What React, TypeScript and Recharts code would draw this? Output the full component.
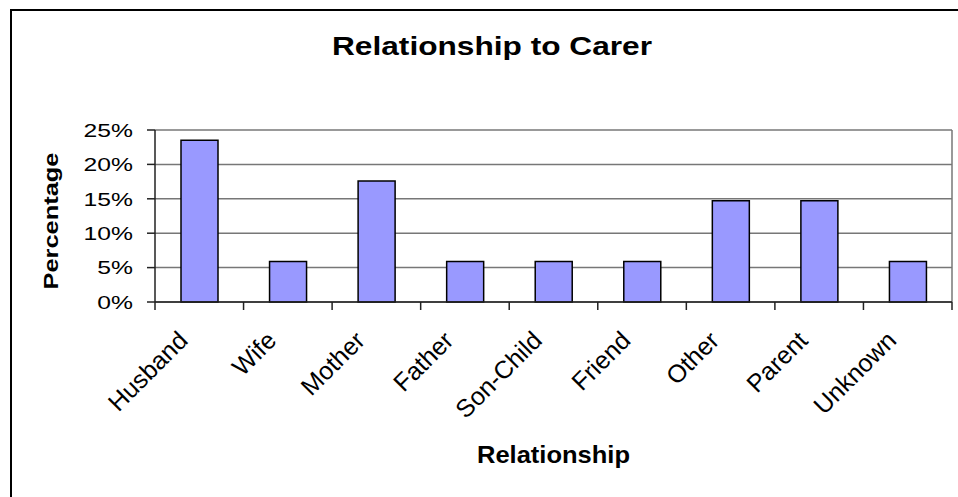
import { Bar, BarChart, CartesianGrid, XAxis, YAxis } from "recharts";

const relationships = [
  "Husband",
  "Wife",
  "Mother",
  "Father",
  "Son-Child",
  "Friend",
  "Other",
  "Parent",
  "Unknown",
];
const percentages = [23.5, 5.9, 17.6, 5.9, 5.9, 5.9, 14.7, 14.7, 5.9];
const yTicks = [0, 5, 10, 15, 20, 25];

const FONT = "Arial, 'Liberation Sans', sans-serif";

const rows = relationships.map((name, i) => ({ name, value: percentages[i] }));

function YTick({ x, y, payload }: any) {
  // excel-ish stretched digits
  return (
    <g transform={`translate(${x},${y}) scale(1.3,1)`}>
      <text x={0} y={0} dy="0.36em" textAnchor="end" fontFamily={FONT} fontSize={19} fill="#000">
        {`${payload.value}%`}
      </text>
    </g>
  );
}

function XTick({ x, y, payload, index, width }: any) {
  const half = payload.offset ?? width / relationships.length / 2;
  const last = index === relationships.length - 1;
  return (
    <g>
      <line x1={x - half} x2={x - half} y1={y} y2={y + 8} stroke="#222" strokeWidth={1.5} />
      {last && <line x1={x + half} x2={x + half} y1={y} y2={y + 8} stroke="#222" strokeWidth={1.5} />}
      <text
        transform={`translate(${x - 10},${y + 40}) rotate(-45)`}
        textAnchor="end"
        fontFamily={FONT}
        fontSize={25}
        fill="#000"
      >
        {payload.value}
      </text>
    </g>
  );
}

function XTitle({ viewBox }: any) {
  const { x, y, width } = viewBox;
  return (
    <text
      x={x + width / 2}
      y={y + 161}
      textAnchor="middle"
      fontFamily={FONT}
      fontWeight="bold"
      fontSize={24}
      textLength={153}
      lengthAdjust="spacingAndGlyphs"
      fill="#000"
    >
      Relationship
    </text>
  );
}

function YTitle({ viewBox }: any) {
  const { y, height } = viewBox;
  const cy = y + height / 2 + 5;
  return (
    <text
      transform={`translate(58,${cy}) rotate(-90)`}
      textAnchor="middle"
      fontFamily={FONT}
      fontWeight="bold"
      fontSize={21}
      textLength={137}
      lengthAdjust="spacingAndGlyphs"
      fill="#000"
    >
      Percentage
    </text>
  );
}

export default function App() {
  return (
    <div
      style={{
        position: "absolute",
        left: 0,
        top: 0,
        width: 958,
        height: 497,
        overflow: "hidden",
        background: "#fff",
      }}
    >
      <div
        style={{
          position: "absolute",
          left: 10,
          top: 9,
          right: -4,
          bottom: -4,
          borderTop: "2px solid #000",
          borderLeft: "2px solid #000",
        }}
      />
      <svg width={958} height={497} style={{ position: "absolute", left: 0, top: 0 }}>
        <text
          x={492}
          y={55}
          textAnchor="middle"
          fontFamily={FONT}
          fontWeight="bold"
          fontSize={26}
          textLength={320}
          lengthAdjust="spacingAndGlyphs"
          fill="#000"
        >
          Relationship to Carer
        </text>
      </svg>
      <div style={{ position: "absolute", left: 0, top: 0 }}>
        <BarChart
          width={958}
          height={497}
          data={rows}
          margin={{ top: 130, right: 6, bottom: 0, left: 0 }}
          barSize={37}
        >
          <CartesianGrid
            stroke="#777"
            strokeWidth={1.5}
            horizontal
            verticalCoordinatesGenerator={({ offset }: any) => [offset.left + offset.width]}
          />
          <XAxis
            dataKey="name"
            height={195}
            interval={0}
            tickLine={false}
            tickSize={0}
            tickMargin={0}
            axisLine={{ stroke: "#222", strokeWidth: 1.5 }}
            tick={<XTick />}
            label={{ content: <XTitle /> }}
          />
          <YAxis
            width={155}
            domain={[0, 25]}
            ticks={yTicks}
            interval={0}
            tickSize={8}
            tickMargin={14}
            tickLine={{ stroke: "#222", strokeWidth: 1.5 }}
            axisLine={{ stroke: "#222", strokeWidth: 1.5 }}
            tick={<YTick />}
            label={{ content: <YTitle /> }}
          />
          <Bar
            dataKey="value"
            fill="#9999FF"
            stroke="#000"
            strokeWidth={1.5}
            isAnimationActive={false}
          />
        </BarChart>
      </div>
    </div>
  );
}
